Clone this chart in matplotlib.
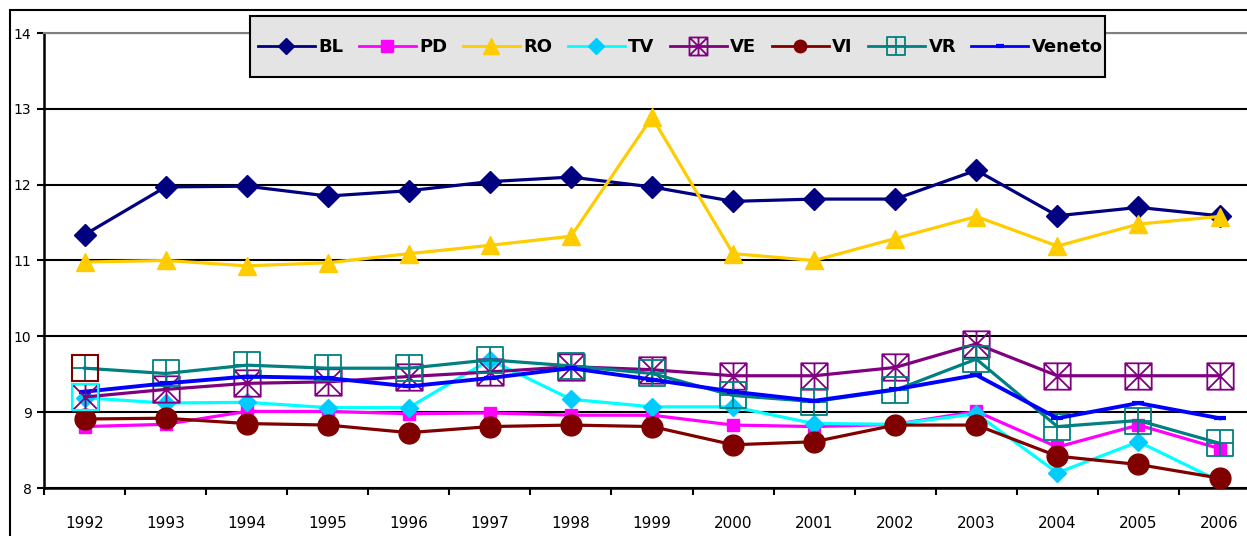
import matplotlib
matplotlib.use('Agg')
import matplotlib.pyplot as plt
from matplotlib.path import Path
from matplotlib.patches import Rectangle

# dati
anni = ['1992', '1993', '1994', '1995', '1996', '1997', '1998', '1999',
        '2000', '2001', '2002', '2003', '2004', '2005', '2006']

bl = [11.34, 11.97, 11.98, 11.85, 11.92, 12.04, 12.10, 11.97, 11.78, 11.81, 11.81, 12.19, 11.59, 11.70, 11.59]
pd_ = [8.81, 8.84, 9.01, 9.01, 8.98, 8.99, 8.96, 8.96, 8.83, 8.81, 8.84, 9.01, 8.54, 8.83, 8.52]
ro = [10.98, 11.00, 10.93, 10.97, 11.09, 11.20, 11.32, 12.89, 11.09, 11.00, 11.29, 11.58, 11.19, 11.48, 11.58]
tv = [9.19, 9.12, 9.13, 9.06, 9.06, 9.69, 9.17, 9.07, 9.07, 8.85, 8.84, 8.98, 8.20, 8.61, 8.09]
ve = [9.20, 9.30, 9.38, 9.40, 9.47, 9.53, 9.60, 9.56, 9.48, 9.48, 9.59, 9.90, 9.48, 9.48, 9.48]
vi = [8.91, 8.92, 8.85, 8.83, 8.73, 8.81, 8.83, 8.81, 8.57, 8.61, 8.83, 8.83, 8.42, 8.31, 8.13]
vr = [9.58, 9.51, 9.62, 9.58, 9.58, 9.69, 9.61, 9.51, 9.22, 9.14, 9.29, 9.70, 8.81, 8.89, 8.59]
veneto = [9.27, 9.38, 9.47, 9.45, 9.34, 9.45, 9.58, 9.43, 9.27, 9.15, 9.30, 9.49, 8.92, 9.12, 8.92]

y_ticks = [8, 9, 10, 11, 12, 13, 14]

x = list(range(len(anni)))

# marker "quadrato con asterisco" e "quadrato con croce" stile Excel
M, L, C = Path.MOVETO, Path.LINETO, Path.CLOSEPOLY
quadro = [(-1, -1), (1, -1), (1, 1), (-1, 1), (-1, -1)]
quadro_c = [M, L, L, L, C]
stella = Path(quadro + [(-1, -1), (1, 1), (-1, 1), (1, -1), (0, -1), (0, 1)],
              quadro_c + [M, L, M, L, M, L])
croce = Path(quadro + [(0, -1), (0, 1), (-1, 0), (1, 0)],
             quadro_c + [M, L, M, L])

fig = plt.figure(figsize=(12.47, 5.36), dpi=100)
ax = fig.add_axes([44 / 1247, 48 / 536, 15 * 81.07 / 1247, 455 / 536])

lw = 2.3
ax.plot(x, bl, color='#000080', lw=lw, marker='D', ms=11, label='BL', zorder=3)
ax.plot(x, pd_, color='#FF00FF', lw=lw, marker='s', ms=9, label='PD', zorder=3)
ax.plot(x, ro, color='#FFCC00', lw=lw, marker='^', ms=13, label='RO', zorder=3)
ax.plot(x, tv, color='#00FFFF', lw=lw, marker='D', ms=9, mfc='#00CCFF', mec='#00CCFF',
        label='TV', zorder=3)
ax.plot(x, ve, color='#800080', lw=lw, marker=stella, ms=19, mfc='none', mew=1.3,
        markevery=list(range(1, len(x))), label='VE', zorder=3)
ax.plot(x, vi, color='#800000', lw=lw, marker='o', ms=15, label='VI', zorder=3)
ax.plot(x, vr, color='#008080', lw=lw, marker=croce, ms=19, mfc='none', mew=1.3,
        markevery=list(range(1, len(x))), label='VR', zorder=3)
ax.plot(x, veneto, color='#0000FF', lw=2.8, marker='_', ms=9, mew=3, label='Veneto', zorder=3)

# primi punti con bordo diverso (come nell'originale)
ax.plot(x[0], ve[0], ls='none', marker=stella, ms=19, mfc='none', mec='#800080', mew=1.3, zorder=3)
ax.plot(x[0], ve[0], ls='none', marker='s', ms=19, mfc='none', mec='#00FFFF', mew=1.5, zorder=3)
ax.plot(x[0], vr[0], ls='none', marker=croce, ms=19, mfc='none', mec='#008080', mew=1.3, zorder=3)
ax.plot(x[0], vr[0], ls='none', marker='s', ms=19, mfc='none', mec='#800000', mew=1.5, zorder=3)

ax.set_xlim(-0.5, len(x) - 0.5)
ax.set_ylim(8, 14)
ax.set_yticks(y_ticks)
ax.set_yticklabels([str(v) for v in y_ticks], fontsize=10)
ax.set_xticks(x)
ax.set_xticklabels(anni, fontsize=11)
ax.set_xticks([i - 0.5 for i in range(len(x) + 1)], minor=True)
ax.tick_params(axis='x', which='major', length=0, pad=20)
ax.tick_params(axis='x', which='minor', length=5, width=1.5, direction='out')
ax.tick_params(axis='y', length=5, width=1.5, direction='out', pad=4)

ax.set_axisbelow(True)
ax.yaxis.grid(True, color='black', lw=1.5)
for s in ['left', 'bottom']:
    ax.spines[s].set_linewidth(1.8)
ax.spines['right'].set_visible(False)
ax.spines['top'].set_color('#808080')
ax.spines['top'].set_linewidth(1.5)

# bordo area grafico
fig.patches.append(Rectangle((10 / 1247, -0.1), 1.2, 1 - 10 / 536 + 0.1,
                             transform=fig.transFigure, fill=False,
                             edgecolor='black', lw=1.5))

# box legenda
fig.patches.append(Rectangle((250 / 1247, 1 - 77 / 536), 855 / 1247, 61 / 536,
                             transform=fig.transFigure, facecolor='#e4e4e4',
                             edgecolor='black', lw=1.5, zorder=5))
leg = fig.legend(loc='center left', bbox_to_anchor=(258 / 1247, 1 - 47 / 536),
                 ncol=8, frameon=False, handlelength=3.15, handletextpad=0.2,
                 columnspacing=0.85, borderaxespad=0, borderpad=0,
                 prop={'weight': 'bold', 'size': 13})
leg.set_zorder(6)
# marker piu piccoli in legenda
for h, ms in zip(leg.legend_handles, [8, 9, 11, 8, 13, 9, 13, 6]):
    h.set_markersize(ms)
    h.set_linewidth(2)

plt.savefig('out.png', dpi=100)
